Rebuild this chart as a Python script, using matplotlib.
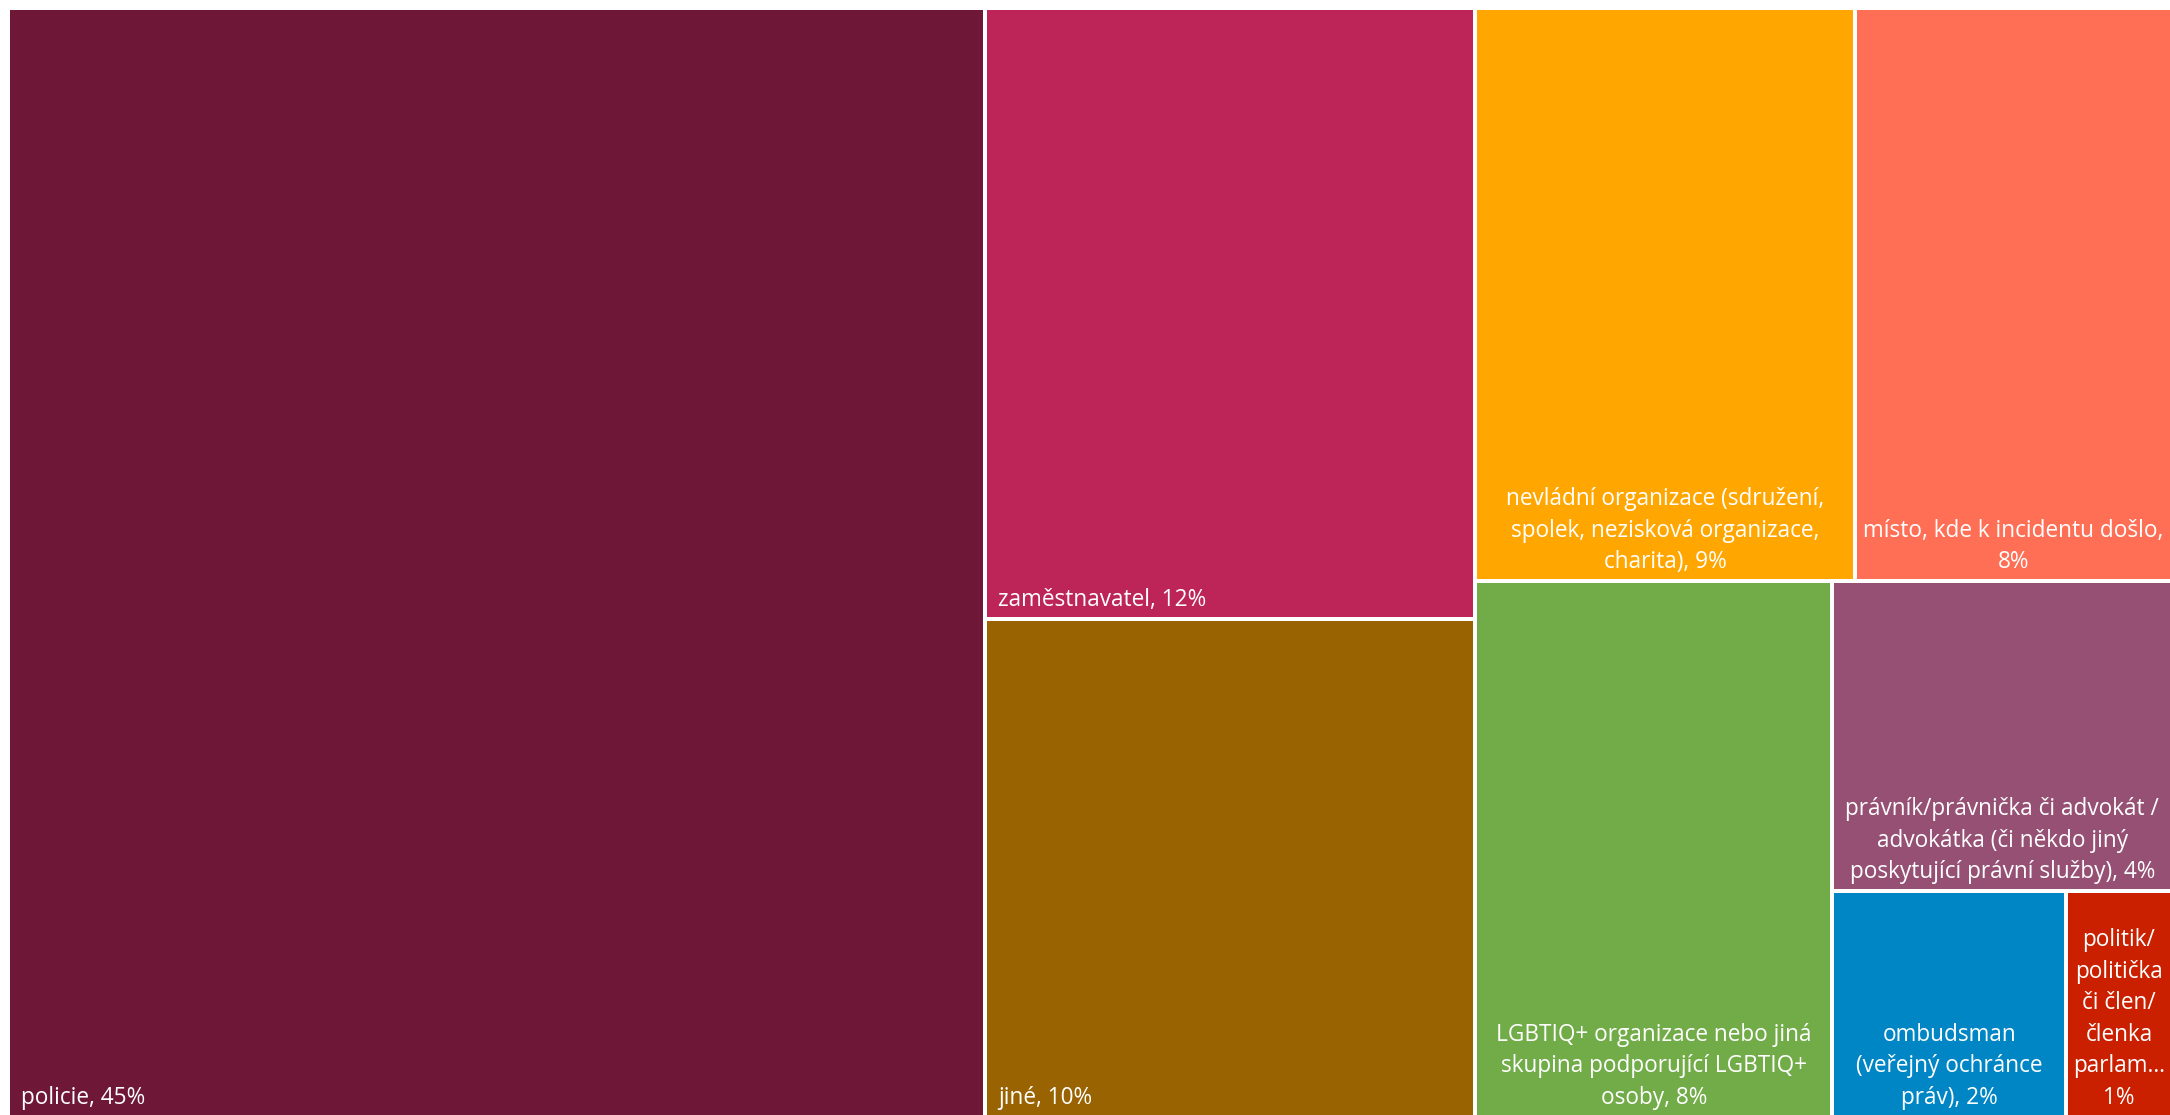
import matplotlib
matplotlib.use("Agg")
import matplotlib.pyplot as plt
import matplotlib.patches as patches

# podíly (%) – v pořadí, v jakém jdou do treemapy
values = [45.3, 12.5, 10.2, 9.1, 7.6, 8.0, 4.4, 2.2, 1.0]

labels = [
    "policie, 45%",
    "zaměstnavatel, 12%",
    "jiné, 10%",
    "nevládní organizace (sdružení,\nspolek, nezisková organizace,\ncharita), 9%",
    "místo, kde k incidentu došlo,\n8%",
    "LGBTIQ+ organizace nebo jiná\nskupina podporující LGBTIQ+\nosoby, 8%",
    "právník/právnička či advokát /\nadvokátka (či někdo jiný\nposkytující právní služby), 4%",
    "ombudsman\n(veřejný ochránce\npráv), 2%",
    "politik/\npolitička\nči člen/\nčlenka\nparlam…\n1%",
]

colors = ["#6F1737", "#BD2559", "#986300", "#FFA700", "#FF6F56",
          "#71AC48", "#955073", "#0086C4", "#CA2000"]


def _worst(row, side):
    s = sum(row)
    return max(max(side * side * r / (s * s), (s * s) / (side * side * r)) for r in row)


def squarify(vals, x, y, dx, dy):
    """Klasický squarified treemap, y roste směrem dolů."""
    total = sum(vals)
    areas = [v * dx * dy / total for v in vals]
    rects = []
    while areas:
        side = min(dx, dy)
        row = [areas[0]]
        i = 1
        while i < len(areas) and _worst(row + [areas[i]], side) <= _worst(row, side):
            row.append(areas[i])
            i += 1
        s = sum(row)
        if dx >= dy:
            w = s / dy
            yy = y
            for a in row:
                h = a / w
                rects.append((x, yy, w, h))
                yy += h
            x += w
            dx -= w
        else:
            h = s / dx
            xx = x
            for a in row:
                w = a / h
                rects.append((xx, y, w, h))
                xx += w
            y += h
            dy -= h
        areas = areas[i:]
    return rects


FIG_W, FIG_H = 2170, 1115
fig = plt.figure(figsize=(FIG_W / 100, FIG_H / 100), dpi=100)
fig.patch.set_facecolor("white")

# oblast treemapy v pixelech (vlevo a nahoře malý okraj)
left, top = 8, 8
W, H = FIG_W + 2 - left, FIG_H + 2 - top
ax = fig.add_axes([left / FIG_W, (FIG_H - top - H) / FIG_H, W / FIG_W, H / FIG_H])
ax.set_xlim(0, W)
ax.set_ylim(H, 0)
ax.axis("off")

rects = squarify(values, 0, 0, W, H)
gap = 4  # bílá mezera mezi dlaždicemi (px)

for (x, y, w, h), lab, col in zip(rects, labels, colors):
    ax.add_patch(patches.Rectangle((x, y), w, h, facecolor=col, edgecolor="white",
                                   linewidth=gap * 72 / 100))
    multi = "\n" in lab
    if multi:
        tx, ha = x + w / 2, "center"
    else:
        tx, ha = x + 13, "left"
    ax.text(tx, y + h - 13, lab, ha=ha, va="baseline", multialignment="center",
            color="white", fontsize=16.3, family=["Open Sans", "DejaVu Sans"],
            linespacing=1.42, clip_on=False)

fig.savefig("out.png", dpi=100, facecolor="white")
plt.close(fig)
